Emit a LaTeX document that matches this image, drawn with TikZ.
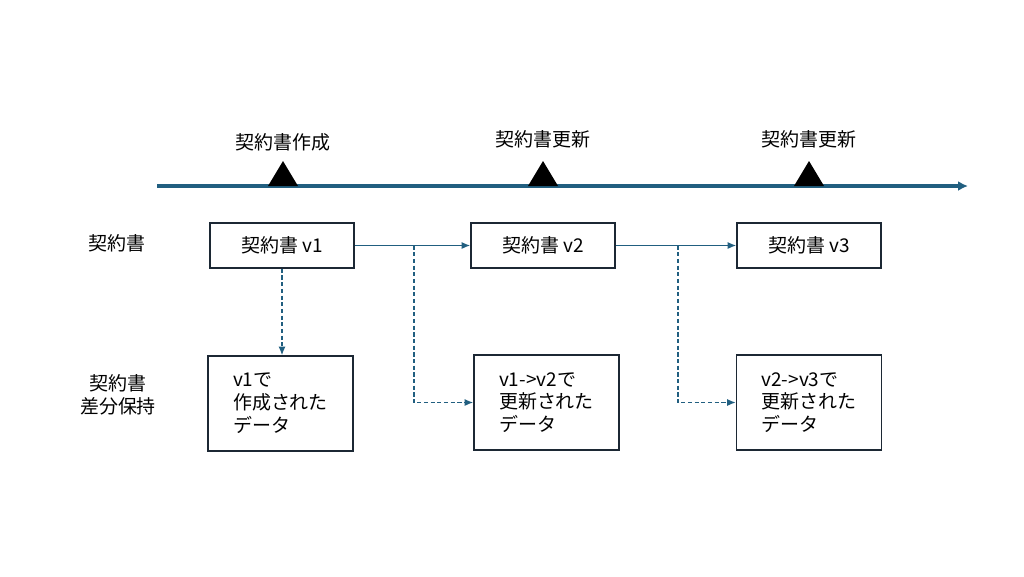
\documentclass[tikz,border=0pt]{standalone}
\usepackage{fontspec}
\setmainfont{Noto Sans CJK JP}
\usetikzlibrary{arrows.meta}

\definecolor{lineblue}{RGB}{33,95,128}
\definecolor{boxline}{RGB}{28,40,52}

\tikzset{
  verbox/.style={draw=boxline, line width=0.9pt, minimum width=2.88cm, minimum height=0.9cm, font=\fontsize{10.8}{13}\selectfont},
  diffbox/.style={draw=boxline, line width=0.9pt, minimum width=2.9cm, minimum height=1.9cm, align=left, font=\fontsize{10.8}{13}\selectfont},
  lbl/.style={font=\fontsize{10.8}{13}\selectfont, align=center},
  flow/.style={draw=lineblue, line width=0.75pt, -{Latex[length=1.7mm,width=1.4mm]}},
  diffflow/.style={flow, dash pattern=on 2.4pt off 1.4pt}
}

\begin{document}
\begin{tikzpicture}[x=0.02cm, y=-0.02cm]
  \useasboundingbox (0,0) rectangle (1024,576);
  %timeline
  \coordinate (tstart) at (157,186);
  \coordinate (tend) at (968,186);
  \draw[lineblue, line width=1.9pt, -{Latex[length=2mm,width=2mm]}] (tstart) -- (tend);
  \foreach \x in {283,543,809}
    \fill[black] (\x-15,186) -- (\x+15,186) -- (\x,161) -- cycle;
  \node[lbl] (ev1) at (283,142) {契約書作成};
  \node[lbl] (ev2) at (543,139) {契約書更新};
  \node[lbl] (ev3) at (809,139) {契約書更新};

  %rows
  \node[lbl] (row1) at (117,243) {契約書};
  \node[lbl] (row2) at (118,395) {契約書\\差分保持};

  \node[verbox] (v1) at (282,245.5) {契約書 v1};
  \node[verbox] (v2) at (543,245.5) {契約書 v2};
  \node[verbox] (v3) at (809,245.5) {契約書 v3};

  \node[diffbox] (d1) at (280.5,403.5) {v1で\\作成された\\データ};
  \node[diffbox] (d2) at (546.5,402.5) {v1->v2で\\更新された\\データ};
  \node[diffbox] (d3) at (809,402.5) {v2->v3で\\更新された\\データ};

  \draw[flow] (v1) -- (v2);
  \draw[flow] (v2) -- (v3);

  \coordinate (j1) at (414,245.5);
  \coordinate (j2) at (678,245.5);
  \draw[diffflow] (v1.south) -- (v1.south |- d1.north);
  \draw[diffflow] (j1) |- (d2.west);
  \draw[diffflow] (j2) |- (d3.west);
\end{tikzpicture}
\end{document}
